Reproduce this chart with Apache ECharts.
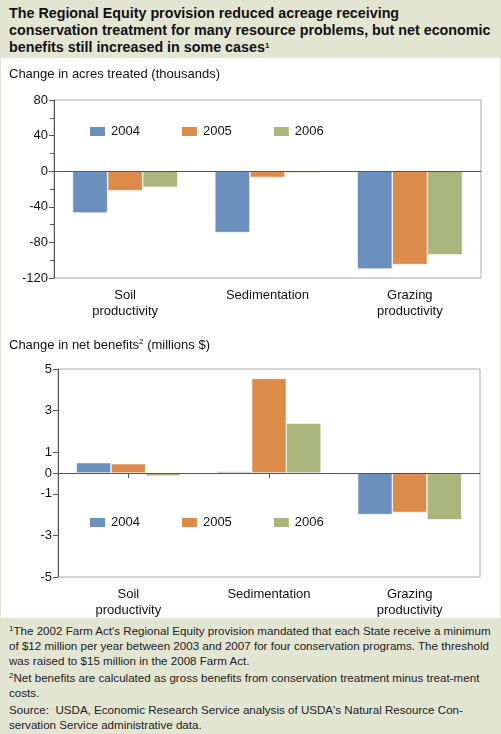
<!DOCTYPE html>
<html><head><meta charset="utf-8">
<script src="https://cdn.jsdelivr.net/npm/echarts@6/dist/echarts.min.js"></script>
<style>
body{margin:0;font-family:"Liberation Sans",Arial,sans-serif;}
#wrap{width:501px;height:734px;position:relative;background:#fff;box-sizing:border-box;border:1px solid #e3e5d3;}
#title{background:#e3e5d3;height:57px;box-sizing:border-box;padding:4px 8px;font-weight:bold;font-size:14.3px;line-height:17px;color:#111;}
#chart{width:499px;height:560px;}
#foot{background:#e3e5d3;position:absolute;left:0;right:0;bottom:0;height:115px;box-sizing:border-box;padding:5px 8px;font-size:11.6px;line-height:15px;color:#222;}
#foot p{margin:0 0 2px 0;}
sup{font-size:8px;vertical-align:4px;line-height:0}
</style></head><body>
<div id="wrap">
<div id="title">The Regional Equity provision reduced acreage receiving conservation treatment for many resource problems, but net economic benefits still increased in some cases<sup>1</sup></div>
<div id="chart"></div>
<div id="foot">
<p><sup>1</sup>The 2002 Farm Act's Regional Equity provision mandated that each State receive a minimum of $12 million per year between 2003 and 2007 for four conservation programs. The threshold was raised to $15 million in the 2008 Farm Act.</p>
<p><sup>2</sup>Net benefits are calculated as gross benefits from conservation treatment minus treat-ment costs.</p>
<p>Source:&nbsp; USDA, Economic Research Service analysis of USDA's Natural Resource Con-servation Service administrative data.</p>
</div>
</div>
<script>
const categories = ['Soil\nproductivity','Sedimentation','Grazing\nproductivity'];
const years = ['2004','2005','2006'];
const acres2004 = [-47,-69,-110];
const acres2005 = [-22,-7,-105];
const acres2006 = [-18,-2,-94];
const ben2004 = [0.5,0.08,-2.0];
const ben2005 = [0.45,4.55,-1.9];
const ben2006 = [-0.15,2.4,-2.25];
const benTicks = [5,3,1,0,-1,-3,-5];
const colors = ['#6a8fbd','#dc8b4a','#a9b57a'];

const font = {fontFamily:'Liberation Sans, Arial, sans-serif'};
const lab = {color:'#111',fontSize:13,...font};
function xAx(i){return {type:'category',gridIndex:i,data:categories,
  axisLine:{show:false},axisTick:{show:true,alignWithLabel:true,lineStyle:{color:'#555'}},
  axisLabel:{...lab,lineHeight:16,margin:9}};}
const chart = echarts.init(document.getElementById('chart'));
const mk = (name,data,i,c)=>({type:'bar',name,data,xAxisIndex:i,yAxisIndex:i,barGap:'0%',barCategoryGap:'26%',
  itemStyle:{color:c,borderColor:'#fff',borderWidth:0.6},
  markLine: c===colors[0]?{silent:true,symbol:'none',label:{show:false},lineStyle:{color:'#555',type:'solid',width:1},data:[{yAxis:0}]}:undefined});
chart.setOption({
  animation:false,
  textStyle:font,
  graphic:[
    {type:'text',left:8,top:10,style:{text:'Change in acres treated (thousands)',fontSize:13,fill:'#111',...font}},
    {type:'text',left:8,top:280,style:{text:'{a|Change in net benefits}{s|2}{a| (millions $)}',rich:{a:{fontSize:13,fill:'#111',...font},s:{fontSize:8,verticalAlign:'top',padding:[0,0,6,0],...font}}}}
  ],
  legend:[
    {left:82,top:62,itemWidth:17,itemHeight:11,itemGap:40,data:years,textStyle:lab,icon:'rect'},
    {left:82,top:453,itemWidth:17,itemHeight:11,itemGap:40,data:years,textStyle:lab,icon:'rect'}
  ],
  grid:[
    {left:53,top:42,width:427,height:178,show:true,borderColor:'#aaa',borderWidth:1},
    {left:57,top:311,width:422,height:210,show:true,borderColor:'#aaa',borderWidth:1}
  ],
  xAxis:[xAx(0),xAx(1)],
  yAxis:[
    {type:'value',gridIndex:0,min:-120,max:80,interval:40,splitLine:{show:false},
     axisLine:{show:true,lineStyle:{color:'#555'}},axisTick:{show:true,lineStyle:{color:'#555'}},
     minorTick:{show:true,splitNumber:2,length:4,lineStyle:{color:'#555'}},axisLabel:{...lab,margin:6}},
    {type:'value',gridIndex:1,min:-5,max:5,interval:1,splitLine:{show:false},
     axisLine:{show:true,lineStyle:{color:'#555'}},
     axisTick:{show:true,customValues:benTicks,lineStyle:{color:'#555'}},
     axisLabel:{...lab,margin:6,customValues:benTicks}}
  ],
  series:[
    mk(years[0],acres2004,0,colors[0]),mk(years[1],acres2005,0,colors[1]),mk(years[2],acres2006,0,colors[2]),
    mk(years[0],ben2004,1,colors[0]),mk(years[1],ben2005,1,colors[1]),mk(years[2],ben2006,1,colors[2])
  ]
});
</script></body></html>
